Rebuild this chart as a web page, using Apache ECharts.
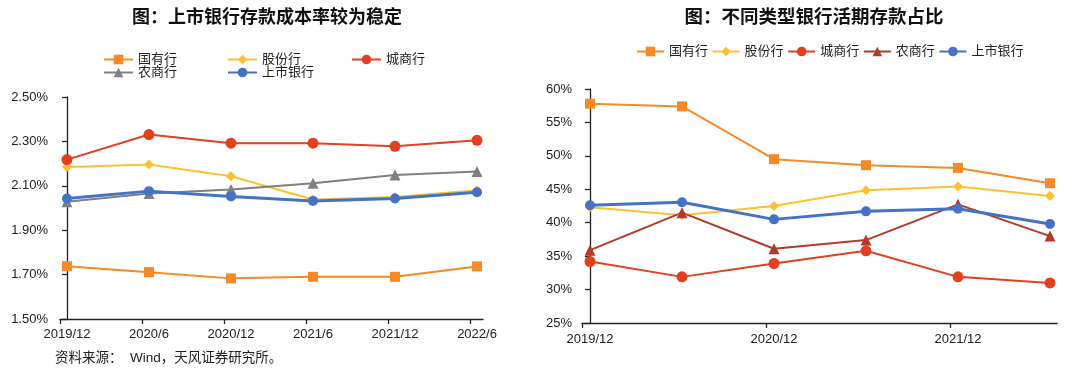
<!DOCTYPE html>
<html><head><meta charset="utf-8">
<script src="https://cdn.jsdelivr.net/npm/echarts@6/dist/echarts.min.js"></script>
<style>html,body{margin:0;padding:0;background:#fff}#c{width:1080px;height:369px}</style>
</head><body><div id="c"></div>
<script>
const categories = ['2019/12','2020/6','2020/12','2021/6','2021/12','2022/6'];
const seriesNames = ['国有行','股份行','城商行','农商行','上市银行'];
// Left: deposit cost rate (%)
const costGuoyou = [1.738, 1.711, 1.683, 1.690, 1.690, 1.737];
const costGufen  = [2.185, 2.196, 2.143, 2.038, 2.050, 2.080];
const costChengshang = [2.218, 2.331, 2.292, 2.292, 2.278, 2.305];
const costNongshang = [2.028, 2.065, 2.083, 2.112, 2.149, 2.164];
const costShangshi = [2.043, 2.076, 2.052, 2.032, 2.043, 2.071];
// Right: demand deposit share (%)
const shareGuoyou = [57.8, 57.4, 49.5, 48.6, 48.2, 45.9];
const shareGufen  = [42.3, 41.1, 42.5, 44.85, 45.4, 44.0];
const shareChengshang = [34.2, 31.9, 33.9, 35.8, 31.9, 31.0];
const shareNongshang = [35.9, 41.5, 36.1, 37.4, 42.75, 38.0];
const shareShangshi = [42.6, 43.05, 40.5, 41.7, 42.1, 39.8];
const leftYTicks = [1.5, 2.5, 0.2];
const rightYTicks = [25, 60, 5];

const FONT = 'Liberation Sans, Arial, Noto Sans CJK SC, sans-serif';
const colorsL = ['#F68A24', '#FDC12F', '#E2401F', '#808080', '#4472C4'];
const colorsR = ['#F68A24', '#FDC12F', '#E2401F', '#B23A2A', '#4472C4'];
const symbols = ['rect', 'diamond', 'circle', 'triangle', 'circle'];
const sizes = [10, 10, 11, 11, 10];
const widths = [2, 2, 2, 2, 3];

const pairs = arr => arr.map((v, i) => [i, v]);
const leftData = [costGuoyou, costGufen, costChengshang, costNongshang, costShangshi];
const rightData = [shareGuoyou, shareGufen, shareChengshang, shareNongshang, shareShangshi];

const axisCommon = {
  axisLine: {show: true, lineStyle: {color: '#222', width: 1.3}},
  axisTick: {show: true, length: 5, lineStyle: {color: '#222', width: 1.3}},
  splitLine: {show: false},
  axisLabel: {color: '#222', fontSize: 13, fontFamily: FONT}
};

const chart = echarts.init(document.getElementById('c'));
const series = [];
seriesNames.forEach((n, k) => {
  series.push({name: n, type: 'line', xAxisIndex: 0, yAxisIndex: 0, data: pairs(leftData[k]),
    symbol: symbols[k], symbolSize: sizes[k], showSymbol: true,
    itemStyle: {color: colorsL[k]}, lineStyle: {color: colorsL[k], width: widths[k]}, animation: false});
});
seriesNames.forEach((n, k) => {
  series.push({name: n + ' ', type: 'line', xAxisIndex: 1, yAxisIndex: 1, data: pairs(rightData[k]),
    symbol: symbols[k], symbolSize: sizes[k], showSymbol: true,
    itemStyle: {color: colorsR[k]}, lineStyle: {color: colorsR[k], width: widths[k]}, animation: false});
});

const lMin = -0.085, lMax = 5.073, rMin = -0.087, rMax = 5.076;
const legendText = {color: '#222', fontSize: 13, fontFamily: FONT};

chart.setOption({
  animation: false,
  title: [
    {text: '图：上市银行存款成本率较为稳定', left: 262, top: 4, textAlign: 'center',
      textStyle: {fontSize: 18, fontWeight: 'bold', color: '#111', fontFamily: FONT}},
    {text: '图：不同类型银行活期存款占比', left: 809, top: 4, textAlign: 'center',
      textStyle: {fontSize: 18.5, fontWeight: 'bold', color: '#111', fontFamily: FONT}},
    {text: '资料来源：  Wind，天风证券研究所。', left: 50, top: 347,
      textStyle: {fontSize: 13.5, fontWeight: 'normal', color: '#222', fontFamily: FONT}}
  ],
  legend: [
    {data: seriesNames.slice(0, 3), left: 103, top: 53, padding: 0, itemWidth: 29, itemHeight: 12, itemGap: 50, textStyle: legendText},
    {data: seriesNames.slice(3), left: 103, top: 66, padding: 0, itemWidth: 29, itemHeight: 12, itemGap: 50, textStyle: legendText},
    {data: seriesNames.map(n => n + ' '), left: 636, top: 45, padding: 0, itemWidth: 27, itemHeight: 12, itemGap: 0, textStyle: legendText}
  ],
  grid: [
    {left: 60, top: 97, width: 423, height: 222},
    {left: 582, top: 89, width: 475, height: 234}
  ],
  xAxis: [
    Object.assign({}, axisCommon, {type: 'value', gridIndex: 0, min: lMin, max: lMax,
      axisTick: Object.assign({}, axisCommon.axisTick, {customValues: categories.map((c, i) => lMin + i)}),
      axisLabel: Object.assign({}, axisCommon.axisLabel, {margin: 9, customValues: categories.map((c, i) => i),
        formatter: v => categories[Math.round(v)]})}),
    Object.assign({}, axisCommon, {type: 'value', gridIndex: 1, min: rMin, max: rMax,
      axisTick: Object.assign({}, axisCommon.axisTick, {customValues: [0, 2, 4].map(i => rMin + i)}),
      axisLabel: Object.assign({}, axisCommon.axisLabel, {margin: 10, customValues: [0, 2, 4],
        formatter: v => categories[Math.round(v)]})})
  ],
  yAxis: [
    Object.assign({}, axisCommon, {type: 'value', gridIndex: 0, min: leftYTicks[0], max: leftYTicks[1], interval: leftYTicks[2],
      axisLabel: Object.assign({}, axisCommon.axisLabel, {margin: 12, formatter: v => v.toFixed(2) + '%'})}),
    Object.assign({}, axisCommon, {type: 'value', gridIndex: 1, min: rightYTicks[0], max: rightYTicks[1], interval: rightYTicks[2],
      axisLabel: Object.assign({}, axisCommon.axisLabel, {margin: 10, formatter: v => v + '%'})})
  ],
  series: series
});
</script></body></html>
